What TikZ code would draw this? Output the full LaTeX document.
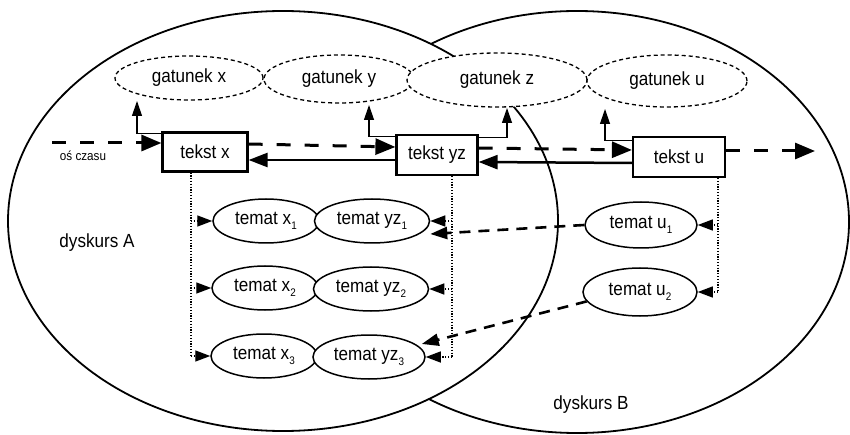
\documentclass[tikz,border=0pt]{standalone}
\usepackage{fontspec}
\setmainfont{Liberation Sans}[FakeStretch=0.9]
\usetikzlibrary{arrows.meta,shapes.geometric}
\newcommand\subidx[1]{\raisebox{-5pt}{\fontsize{11}{11}\selectfont #1}}
\begin{document}
\begin{tikzpicture}[x=1pt,y=-1pt,
  every node/.style={font=\fontsize{19}{22}\selectfont, inner sep=0pt},
  bigline/.style={line width=1.8pt},
  gat/.style={ellipse, draw, fill=white, line width=1.3pt, dash pattern=on 4pt off 3pt},
  txtbox/.style={rectangle, draw, fill=white, line width=2.2pt, minimum height=39pt},
  tem/.style={ellipse, draw, fill=white, line width=1.5pt, minimum height=44pt},
  timeax/.style={line width=3pt, dash pattern=on 14pt off 14pt, -{Triangle[length=20pt,width=16pt]}},
  backarr/.style={line width=2.5pt, -{Triangle[length=19pt,width=14pt]}},
  uparr/.style={line width=1.2pt, -{Triangle[length=15pt,width=10pt]}},
  dotln/.style={line width=1.4pt, dash pattern=on 1.2pt off 1.6pt},
  dotarr/.style={dotln, -{Triangle[length=15pt,width=11pt]}},
  dasharr/.style={line width=2.6pt, dash pattern=on 11pt off 8pt, -{Triangle[length=17pt,width=12pt]}}
]
\useasboundingbox (0,0) rectangle (850,435);
\fill[white] (0,0) rectangle (850,435);
% discourse ellipses
\draw[bigline] (577,222) ellipse [x radius=272pt, y radius=211pt];
\draw[bigline, fill=white] (283,221) ellipse [x radius=275pt, y radius=210pt];
% genres
\node[gat, minimum width=148pt, minimum height=44pt] (gx) at (189,78) {gatunek x};
\node[gat, minimum width=150pt, minimum height=48pt] (gy) at (339,79) {gatunek y};
\node[gat, minimum width=180pt, minimum height=54pt] (gz) at (497,80) {gatunek z};
\node[gat, minimum width=160pt, minimum height=52pt] (gu) at (667,81) {gatunek u};
% texts
\node[txtbox, minimum width=85pt] (tx) at (205,152) {tekst x};
\node[txtbox, minimum width=81pt, minimum height=40pt] (ty) at (437,155) {tekst yz};
\node[txtbox, minimum width=92pt, minimum height=40pt] (tu) at (679,157) {tekst u};
% topics
\node[tem, minimum width=106pt] (x1) at (266,221) {temat x\subidx{1}};
\node[tem, minimum width=115pt] (yz1) at (372,221) {temat yz\subidx{1}};
\node[tem, minimum width=106pt] (x2) at (265,288) {temat x\subidx{2}};
\node[tem, minimum width=115pt] (yz2) at (371,289) {temat yz\subidx{2}};
\node[tem, minimum width=106pt] (x3) at (264,356) {temat x\subidx{3}};
\node[tem, minimum width=112pt] (yz3) at (369,357) {temat yz\subidx{3}};
\node[tem, minimum width=112pt, minimum height=46pt] (u1) at (641,225) {temat u\subidx{1}};
\node[tem, minimum width=114pt, minimum height=48pt] (u2) at (640,292) {temat u\subidx{2}};
% labels
\node[font=\fontsize{13}{15}\selectfont] (osc) at (83,156) {oś czasu};
\node (dA) at (97,243) {dyskurs A};
\node (dB) at (591,405) {dyskurs B};
% time axis
\coordinate (t0) at (52,143);
\coordinate (tend) at (815,151);
\draw[timeax] (t0) -- (t0 -| tx.west);
\draw[timeax] ([yshift=8pt]tx.east) -- ([yshift=8pt]ty.west);
\draw[timeax] ([yshift=7pt]ty.east) -- ([yshift=7pt]tu.west);
\draw[timeax] ([yshift=6pt]tu.east) -- (tend);
% backward references
\draw[backarr] ([yshift=-6pt]tu.west) -- ([yshift=-7pt]ty.east);
\draw[backarr] ([yshift=-5pt]ty.west) -- ([yshift=-8pt]tx.east);
% genre links
\coordinate (gxa) at (137,101);
\coordinate (gya) at (369,105);
\coordinate (gza) at (507,108);
\coordinate (gua) at (605,109);
\draw[uparr] ([yshift=-2pt]tx.north west) -| (gxa);
\draw[uparr] ([yshift=-3pt]ty.north west) -| (gya);
\draw[uparr] ([yshift=-4pt]ty.north east) -| (gza);
\draw[uparr] ([yshift=-5pt]tu.north west) -| (gua);
% topic links
\coordinate (dxc) at (191,0);
\coordinate (dyc) at (452,0);
\coordinate (duc) at (718,0);
\draw[dotln] (tx.south -| dxc) -- (dxc |- x3);
\draw[dotarr] (dxc |- x1) -- (x1.west);
\draw[dotarr] (dxc |- x2) -- (x2.west);
\draw[dotarr] (dxc |- x3) -- (x3.west);
\draw[dotln] (ty.south -| dyc) -- (dyc |- yz3);
\draw[dotarr] (dyc |- yz1) -- (yz1.east);
\draw[dotarr] (dyc |- yz2) -- (yz2.east);
\draw[dotarr] (dyc |- yz3) -- (yz3.east);
\draw[dotln] (tu.south -| duc) -- (duc |- u2);
\draw[dotarr] (duc |- u1) -- (u1.east);
\draw[dotarr] (duc |- u2) -- (u2.east);
% topic continuations
\draw[dasharr] (u1.west) -- ([yshift=-13pt]yz1.east);
\draw[dasharr] (u2.190) -- ([xshift=-4pt,yshift=13pt]yz3.east);
\end{tikzpicture}
\end{document}
